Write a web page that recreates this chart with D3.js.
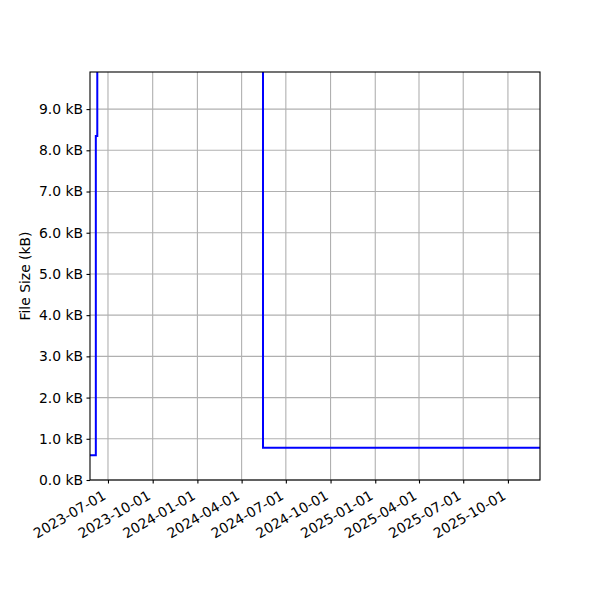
<!DOCTYPE html>
<html lang="en">
<head>
  <meta charset="UTF-8">
  <title>File Size</title>
  <script src="https://d3js.org/d3.v7.min.js"></script>
  <style>
    body { margin: 0; background: #fff; }
    text { font-family: "DejaVu Sans", sans-serif; fill: #000; }
    .grid line { stroke: #b0b0b0; stroke-width: 1.1; }
    .axis path, .axis line { stroke: #000; stroke-width: 1.1; }
  </style>
</head>
<body>
  <svg id="chart" width="600" height="600"></svg>
  <script>
    // step data: date of change and file size (kB) from that date on
    const dates = ["2023-05-20", "2023-06-06", "2023-06-09", "2024-05-15", "2025-12-10"];
    const sizes = [0.6, 8.35, 14.0, 0.78, 0.78];
    const tickDates = ["2023-07-01", "2023-10-01", "2024-01-01", "2024-04-01", "2024-07-01",
      "2024-10-01", "2025-01-01", "2025-04-01", "2025-07-01", "2025-10-01"];
    const yTicks = [0, 1, 2, 3, 4, 5, 6, 7, 8, 9];
    const xRange = ["2023-05-25", "2025-12-06"];
    const yMax = 9.9;

    const parse = d3.timeParse("%Y-%m-%d");
    const data = dates.map((d, i) => ({ date: parse(d), size: sizes[i] }));

    const margin = { top: 72, right: 60, bottom: 120, left: 90 };
    const width = 600 - margin.left - margin.right;
    const height = 600 - margin.top - margin.bottom;

    const svg = d3.select("#chart");
    const g = svg.append("g").attr("transform", `translate(${margin.left},${margin.top})`);

    const x = d3.scaleTime().domain(xRange.map(parse)).range([0, width]);
    const y = d3.scaleLinear().domain([0, yMax]).range([height, 0]);

    // grid
    g.append("g").attr("class", "grid")
      .selectAll("line").data(tickDates.map(parse)).join("line")
      .attr("x1", d => x(d)).attr("x2", d => x(d))
      .attr("y1", 0).attr("y2", height);
    g.append("g").attr("class", "grid")
      .selectAll("line").data(yTicks).join("line")
      .attr("x1", 0).attr("x2", width)
      .attr("y1", d => y(d)).attr("y2", d => y(d));

    // line clipped to plot area
    g.append("clipPath").attr("id", "clip")
      .append("rect").attr("width", width).attr("height", height);
    const line = d3.line()
      .x(d => x(d.date))
      .y(d => y(d.size))
      .curve(d3.curveStepAfter);
    g.append("path")
      .datum(data)
      .attr("clip-path", "url(#clip)")
      .attr("fill", "none")
      .attr("stroke", "#0000ff")
      .attr("stroke-width", 2)
      .attr("d", line);

    // axes
    const xAxis = g.append("g").attr("class", "axis")
      .attr("transform", `translate(0,${height})`)
      .call(d3.axisBottom(x).tickValues(tickDates.map(parse))
        .tickFormat(d3.timeFormat("%Y-%m-%d")).tickSize(3.5).tickPadding(3.5));
    xAxis.select(".domain").remove();
    xAxis.selectAll("text")
      .style("font-size", "13.9px")
      .attr("text-anchor", "end")
      .attr("dy", "0.35em")
      .attr("transform", "translate(-7.5,8) rotate(-30)");

    const yAxis = g.append("g").attr("class", "axis")
      .call(d3.axisLeft(y).tickValues(yTicks)
        .tickFormat(d => d3.format(".1f")(d) + " kB").tickSize(3.5).tickPadding(3.5));
    yAxis.select(".domain").remove();
    yAxis.selectAll("text").style("font-size", "13.9px");

    // frame
    g.append("rect")
      .attr("width", width).attr("height", height)
      .attr("fill", "none").attr("stroke", "#000").attr("stroke-width", 1.1);

    g.append("text")
      .attr("transform", `translate(-60,${height / 2}) rotate(-90)`)
      .attr("text-anchor", "middle")
      .style("font-size", "13.9px")
      .text("File Size (kB)");
  </script>
</body>
</html>
